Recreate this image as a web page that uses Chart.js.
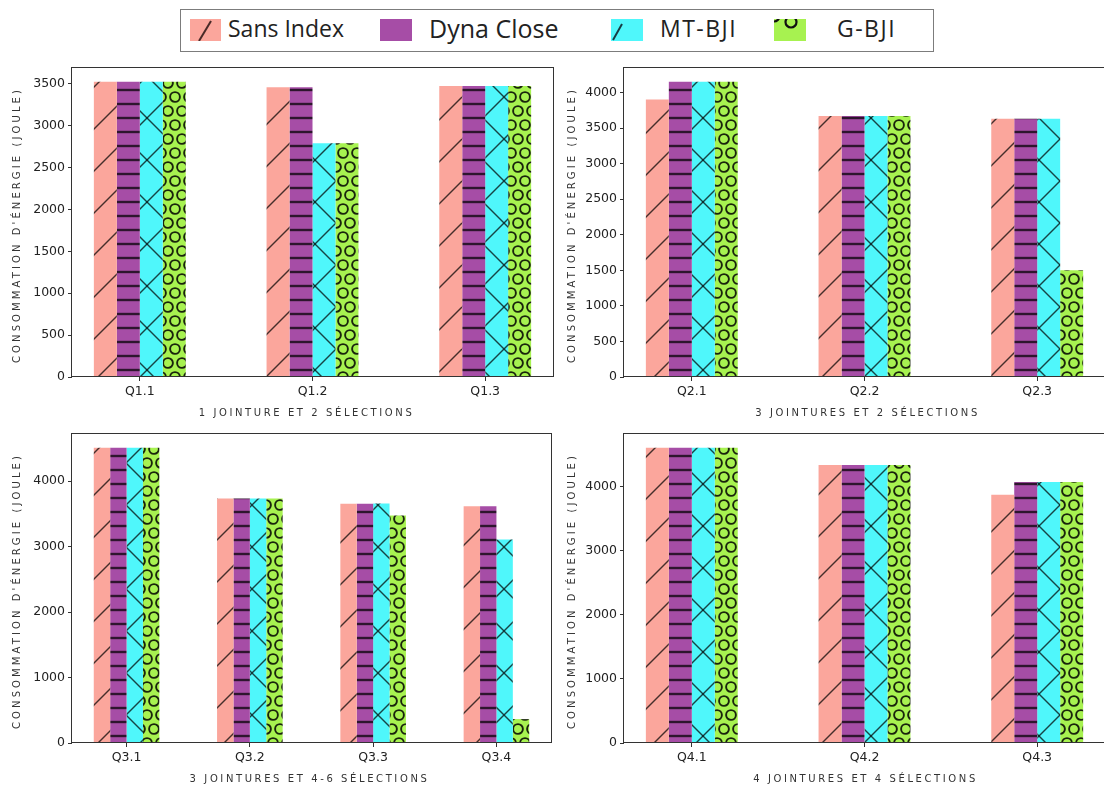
<!DOCTYPE html>
<html>
<head>
<meta charset="utf-8">
<script src="https://cdn.jsdelivr.net/npm/chart.js@4.4.1/dist/chart.umd.min.js"></script>
<style>
  html, body { margin: 0; padding: 0; background: #fff; }
  #page { position: relative; width: 1104px; height: 790px; overflow: hidden; background: #fff; }
  canvas.panel { position: absolute; }
  #legendBox { position: absolute; left: 180px; top: 9px; width: 754px; height: 43px; box-sizing: border-box; border: 1.5px solid #7c7c7c; }
  .sw { position: absolute; top: 19px; }
  .lt { position: absolute; top: 8px; height: 43px; line-height: 41px; font-family: 'Open Sans'; font-size: 23px; color: #222; white-space: nowrap; }
</style>
</head>
<body>
<div id="page">
  <div id="legendBox"></div>
  <canvas class="sw" id="sw0" width="31" height="22" style="left:190px"></canvas>
  <div class="lt" style="left:228px">Sans Index</div>
  <canvas class="sw" id="sw1" width="32" height="22" style="left:380px"></canvas>
  <div class="lt" style="left:429px;font-size:25px">Dyna Close</div>
  <canvas class="sw" id="sw2" width="32" height="22" style="left:611px"></canvas>
  <div class="lt" style="left:660px;letter-spacing:1.5px">MT-BJI</div>
  <canvas class="sw" id="sw3" width="32" height="22" style="left:774px"></canvas>
  <div class="lt" style="left:837px;letter-spacing:1.5px">G-BJI</div>

  <canvas class="panel" id="chart1"></canvas>
  <canvas class="panel" id="chart2"></canvas>
  <canvas class="panel" id="chart3"></canvas>
  <canvas class="panel" id="chart4"></canvas>
</div>
<script>
// series
var series = ['Sans Index', 'Dyna Close', 'MT-BJI', 'G-BJI'];
var colors = ['#fba69c', '#a64da6', '#4ff7fb', '#a7f250'];
var hatches = ['/', '-', 'x', 'o'];
var yTitle = "CONSOMMATION D'ÉNERGIE (JOULE)";

// 1 jointure et 2 selections
var cats1 = ['Q1.1', 'Q1.2', 'Q1.3'];
var sansIndex1 = [3525, 3460, 3475];
var dynaClose1 = [3525, 3460, 3475];
var mtBji1 = [3525, 2790, 3475];
var gBji1 = [3525, 2790, 3475];

// 3 jointures et 2 selections
var cats2 = ['Q2.1', 'Q2.2', 'Q2.3'];
var sansIndex2 = [3900, 3670, 3630];
var dynaClose2 = [4150, 3670, 3630];
var mtBji2 = [4150, 3670, 3630];
var gBji2 = [4150, 3670, 1500];

// 3 jointures et 4-6 selections
var cats3 = ['Q3.1', 'Q3.2', 'Q3.3', 'Q3.4'];
var sansIndex3 = [4510, 3735, 3655, 3615];
var dynaClose3 = [4510, 3735, 3655, 3615];
var mtBji3 = [4510, 3735, 3660, 3110];
var gBji3 = [4510, 3735, 3475, 365];

// 4 jointures et 4 selections
var cats4 = ['Q4.1', 'Q4.2', 'Q4.3'];
var sansIndex4 = [4610, 4340, 3875];
var dynaClose4 = [4610, 4340, 4075];
var mtBji4 = [4610, 4340, 4075];
var gBji4 = [4610, 4340, 4075];

var barW = 0.133; // bar width in category units

// hatch fills
function makePattern(kind, color) {
    var P = (kind === '/' || kind === 'x') ? 42 : 14;
    var tile = document.createElement('canvas');
    tile.width = P;
    tile.height = kind === 'o' ? 2 * P : P;
    var c = tile.getContext('2d');
    c.fillStyle = color;
    c.fillRect(0, 0, tile.width, tile.height);
    c.strokeStyle = 'rgba(0,0,0,0.72)';
    if (kind === '/' || kind === 'x') {
        c.lineWidth = 1.4;
        for (var k = -1; k <= 1; k++) {
            c.beginPath(); c.moveTo(k * P, P); c.lineTo(k * P + P, 0); c.stroke();
            if (kind === 'x') {
                c.beginPath(); c.moveTo(k * P, 0); c.lineTo(k * P + P, P); c.stroke();
            }
        }
    } else if (kind === '-') {
        c.lineWidth = 2.4;
        c.beginPath(); c.moveTo(0, P / 2); c.lineTo(P, P / 2); c.stroke();
    } else {
        c.strokeStyle = 'rgba(0,0,0,0.85)';
        c.lineWidth = 1.9;
        [[0, 0], [P, 0], [0, 2 * P], [P, 2 * P], [P / 2, P]].forEach(function (p) {
            c.beginPath(); c.arc(p[0], p[1], 0.35 * P, 0, 2 * Math.PI); c.stroke();
        });
    }
    return c.createPattern(tile, 'repeat');
}
var patterns = hatches.map(function (h, k) { return makePattern(h, colors[k]); });

// legend swatches
(function () {
    var c;
    c = document.getElementById('sw0').getContext('2d');
    c.fillStyle = colors[0]; c.fillRect(0, 0, 31, 22);
    c.strokeStyle = '#4a2a28'; c.lineWidth = 2;
    c.beginPath(); c.moveTo(9, 22); c.lineTo(21, 2); c.stroke();
    c = document.getElementById('sw1').getContext('2d');
    c.fillStyle = colors[1]; c.fillRect(0, 0, 32, 22);
    c = document.getElementById('sw2').getContext('2d');
    c.fillStyle = colors[2]; c.fillRect(0, 0, 32, 22);
    c.strokeStyle = '#163c44'; c.lineWidth = 2;
    c.beginPath(); c.moveTo(2, 21); c.lineTo(11, 5); c.stroke();
    c = document.getElementById('sw3').getContext('2d');
    c.fillStyle = colors[3]; c.fillRect(0, 0, 32, 22);
    c.strokeStyle = '#111'; c.lineWidth = 2.2;
    c.beginPath(); c.arc(17, 3, 5.5, 0, 2 * Math.PI); c.stroke();
    c.beginPath(); c.arc(0, -3, 5.5, 0, 2 * Math.PI); c.stroke();
})();

// frame + axis titles
var framePlugin = {
    id: 'frame',
    afterDraw: function (chart) {
        var ctx = chart.ctx, a = chart.chartArea, o = chart.options.plugins.frame;
        ctx.save();
        ctx.strokeStyle = '#333';
        ctx.lineWidth = 1;
        ctx.strokeRect(Math.round(a.left) - 0.5, Math.round(a.top) + 0.5,
            Math.round(a.right - a.left) + 1, Math.round(a.bottom - a.top) - 1);
        ctx.fillStyle = '#333';
        ctx.font = '10px "DejaVu Sans"';
        ctx.textAlign = 'center';
        ctx.textBaseline = 'middle';
        ctx.letterSpacing = '2.6px';
        ctx.fillText(o.xTitle, (a.left + a.right) / 2 + o.xShift, a.bottom + 36);
        ctx.translate(o.yTitleX, (a.top + a.bottom) / 2 + 3);
        ctx.rotate(-Math.PI / 2);
        ctx.letterSpacing = '3.1px';
        ctx.fillText(yTitle, 0, 0);
        ctx.restore();
    }
};

function makePanel(id, cats, values, xTitle, yStep, canvasLeft, area, xShift) {
    var cv = document.getElementById(id);
    var canvasTop = area.t - 12;
    var w = canvasLeft < 500 ? 560 : 554;
    var h = area.b - canvasTop + 50;
    cv.width = w; cv.height = h;
    cv.style.left = canvasLeft + 'px';
    cv.style.top = canvasTop + 'px';

    var n = cats.length;
    var half = 2 * barW;
    var pad = 0.05 * (n - 1 + 2 * half);
    var yMax = Math.max.apply(null, [].concat.apply([], values)) * 1.05;
    var tickFont = { family: 'DejaVu Sans', size: 12.5 };

    return new Chart(cv.getContext('2d'), {
        type: 'bar',
        data: {
            datasets: series.map(function (name, k) {
                return {
                    label: name,
                    data: values[k].map(function (v, i) { return { x: i, y: v }; }),
                    backgroundColor: patterns[k],
                    hoverBackgroundColor: patterns[k],
                    borderWidth: 0,
                    categoryPercentage: 4 * barW,
                    barPercentage: 1
                };
            })
        },
        options: {
            responsive: false,
            animation: false,
            events: [],
            layout: {
                autoPadding: false,
                padding: { left: 0, top: area.t - canvasTop, right: w - (area.r - canvasLeft), bottom: 0 }
            },
            plugins: {
                legend: { display: false },
                tooltip: { enabled: false },
                frame: { xTitle: xTitle, yTitleX: canvasLeft < 500 ? 17 : 16, xShift: xShift }
            },
            scales: {
                x: {
                    type: 'linear',
                    min: -half - pad,
                    max: n - 1 + half + pad,
                    offset: false,
                    border: { display: false },
                    grid: { display: true, drawOnChartArea: false, offset: false, tickLength: 4, tickColor: '#333', tickWidth: 1 },
                    afterBuildTicks: function (s) {
                        s.ticks = cats.map(function (c, i) { return { value: i }; });
                    },
                    afterFit: function (s) {
                        s.height = h - (area.b - canvasTop);
                        s.paddingLeft = 0; s.paddingRight = 0;
                    },
                    ticks: {
                        autoSkip: false, maxRotation: 0, padding: 3, color: '#222', font: tickFont,
                        callback: function (v) { return cats[Math.round(v)]; }
                    }
                },
                y: {
                    min: 0,
                    max: yMax,
                    border: { display: false },
                    grid: { display: true, drawOnChartArea: false, tickLength: 4, tickColor: '#333', tickWidth: 1 },
                    afterBuildTicks: function (s) {
                        var t = [];
                        for (var v = 0; v <= s.max; v += yStep) t.push({ value: v });
                        s.ticks = t;
                    },
                    afterFit: function (s) {
                        s.width = area.l - canvasLeft;
                        s.paddingTop = 0; s.paddingBottom = 0;
                    },
                    ticks: {
                        autoSkip: false, padding: 3, color: '#222', font: tickFont,
                        callback: function (v) { return String(v); }
                    }
                }
            }
        },
        plugins: [framePlugin]
    });
}

makePanel('chart1', cats1, [sansIndex1, dynaClose1, mtBji1, gBji1],
    '1 JOINTURE ET 2 SÉLECTIONS', 500, 0, { l: 72, t: 67, r: 553, b: 377 }, -6);
makePanel('chart2', cats2, [sansIndex2, dynaClose2, mtBji2, gBji2],
    '3 JOINTURES ET 2 SÉLECTIONS', 500, 556, { l: 624, t: 67, r: 1105, b: 377 }, 3);
makePanel('chart3', cats3, [sansIndex3, dynaClose3, mtBji3, gBji3],
    '3 JOINTURES ET 4-6 SÉLECTIONS', 1000, 0, { l: 72, t: 433, r: 551, b: 743 }, -2);
makePanel('chart4', cats4, [sansIndex4, dynaClose4, mtBji4, gBji4],
    '4 JOINTURES ET 4 SÉLECTIONS', 1000, 556, { l: 624, t: 433, r: 1105, b: 743 }, 1);
</script>
</body>
</html>
